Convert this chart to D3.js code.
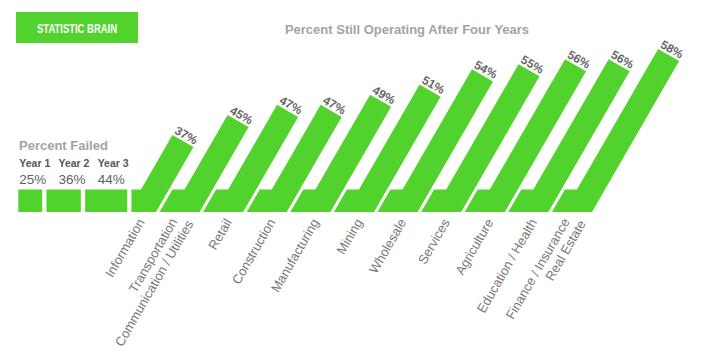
<!DOCTYPE html>
<html>
<head>
<meta charset="utf-8">
<script src="https://cdn.jsdelivr.net/npm/d3@7"></script>
<style>
  body { margin: 0; background: #fff; }
  text { font-family: "Liberation Sans", Arial, Helvetica, sans-serif; }
</style>
</head>
<body>
<div id="chart"></div>
<script>
const width = 709;
const height = 362;

// Industries (two-line labels are split into arrays)
const categories = [
    ["Information"],
    ["Transportation", "Communication / Utilities"],
    ["Retail"],
    ["Construction"],
    ["Manufacturing"],
    ["Mining"],
    ["Wholesale"],
    ["Services"],
    ["Agriculture"],
    ["Education / Health"],
    ["Finance / Insurance", "Real Estate"]
];
const stillOperating = [37, 45, 47, 47, 49, 51, 54, 55, 56, 56, 58];

const failedYears = ["Year 1", "Year 2", "Year 3"];
const failedValues = [25, 36, 44];

const green = "#52d22c";
const baseBottom = 212;
const baseTop = 189.5;
const cot60 = 1 / Math.tan(Math.PI / 3);
const bandW = 28;          // horizontal width of a slanted bar
const edge = bandW * Math.sin(Math.PI / 3);
const ux = Math.cos(Math.PI / 6), uy = Math.sin(Math.PI / 6);

const svg = d3.select("#chart").append("svg")
    .attr("width", width)
    .attr("height", height);

// logo
svg.append("rect")
    .attr("x", 16).attr("y", 12)
    .attr("width", 122).attr("height", 31)
    .attr("fill", green);
svg.append("text")
    .attr("x", 77).attr("y", 32.6)
    .attr("text-anchor", "middle")
    .attr("textLength", 80)
    .attr("lengthAdjust", "spacingAndGlyphs")
    .style("font-size", "13px")
    .style("font-weight", "bold")
    .attr("fill", "#fff")
    .text("STATISTIC BRAIN");

svg.append("text")
    .attr("x", 407).attr("y", 34.3)
    .attr("text-anchor", "middle")
    .style("font-size", "13px")
    .style("font-weight", "bold")
    .attr("fill", "#a3a3a3")
    .text("Percent Still Operating After Four Years");

// failed boxes
const boxW = d3.scaleLinear().domain([0, 44]).range([0, 42]);
const boxGap = 4.3;
let bx = 18.3;
const boxX = failedValues.map(v => { const x0 = bx; bx += boxW(v) + boxGap; return x0; });
const boxesEnd = boxX[2] + boxW(failedValues[2]);

svg.selectAll(".failed")
    .data(failedValues)
    .enter().append("rect")
    .attr("class", "failed")
    .attr("x", (d, i) => boxX[i])
    .attr("y", baseTop)
    .attr("width", d => boxW(d))
    .attr("height", baseBottom - baseTop)
    .attr("fill", green);

svg.append("text")
    .attr("x", 19).attr("y", 149.5)
    .style("font-size", "13px")
    .style("font-weight", "bold")
    .attr("fill", "#a3a3a3")
    .text("Percent Failed");

const yearX = d3.scalePoint().domain(failedYears).range([19.3, 97.7]);
svg.selectAll(".year")
    .data(failedYears)
    .enter().append("text")
    .attr("x", d => yearX(d))
    .attr("y", 166.7)
    .style("font-size", "10.5px")
    .style("font-weight", "bold")
    .attr("fill", "#555")
    .text(d => d);

svg.selectAll(".failedPct")
    .data(failedValues)
    .enter().append("text")
    .attr("x", (d, i) => yearX(failedYears[i]))
    .attr("y", 183.5)
    .style("font-size", "13.5px")
    .attr("fill", "#606060")
    .text(d => d + "%");

// slanted bars
const keys = categories.map(c => c.join(" "));
const x = d3.scalePoint().domain(keys).range([156, 592]);
const h = d3.scaleLinear().domain([37, 45, 58]).range([77, 97, 163]);

const bars = stillOperating.map((v, i) => {
    const xr = x(keys[i]);
    const hh = h(v);
    const bl = i === 0 ? boxesEnd + boxGap : x(keys[i - 1]) + 3.5;
    const tlb = i === 0 ? bl : bl + (baseBottom - baseTop) * cot60;
    const tl = [xr - bandW + hh * cot60, baseBottom - hh];
    const tr = [tl[0] + edge * ux, tl[1] + edge * uy];
    return {
        v, i, xr, tl,
        pts: [[bl, baseBottom], [tlb, baseTop], [xr - bandW + (baseBottom - baseTop) * cot60, baseTop], tl, tr, [xr, baseBottom]]
    };
});

svg.selectAll(".bar")
    .data(bars)
    .enter().append("path")
    .attr("class", "bar")
    .attr("d", d => d3.line()(d.pts) + "Z")
    .attr("fill", green);

svg.selectAll(".pct")
    .data(bars)
    .enter().append("text")
    .attr("class", "pct")
    .attr("transform", d => {
        const mx = d.tl[0] + edge / 2 * ux + 2.5 * 0.5;
        const my = d.tl[1] + edge / 2 * uy - 2.5 * 0.866;
        return `translate(${mx},${my}) rotate(30)`;
    })
    .attr("text-anchor", "middle")
    .style("font-size", "12px")
    .style("font-weight", "bold")
    .attr("fill", "#666")
    .text(d => d.v + "%");

// category labels
const labels = svg.selectAll(".cat")
    .data(categories)
    .enter().append("g")
    .attr("class", "cat")
    .attr("transform", (d, i) => `translate(${x(keys[i]) - 11},222) rotate(-60)`);

labels.selectAll("text")
    .data(d => d.map((t, j) => ({ t, j, n: d.length })))
    .enter().append("text")
    .attr("x", d => d.n > 1 ? -5 + d.j * 6.2 : 0)
    .attr("y", d => d.n > 1 ? (d.j - 0.65) * 15 : 0)
    .attr("text-anchor", "end")
    .style("font-size", "13px")
    .attr("fill", "#777")
    .text(d => d.t);
</script>
</body>
</html>
